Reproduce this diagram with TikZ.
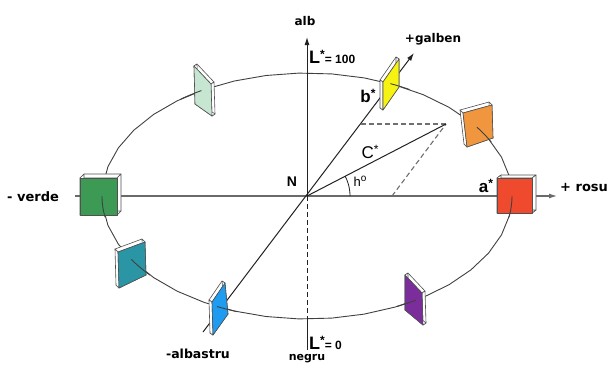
\documentclass[tikz,border=0pt]{standalone}
\usepackage{fontspec}
\setmainfont{DejaVu Sans}
\newfontfamily\arialfont{Liberation Sans}
\usetikzlibrary{arrows.meta,calc}

\definecolor{axisdark}{HTML}{222222}
\definecolor{axisgray}{HTML}{6A6A6A}
\definecolor{ringgray}{HTML}{404040}
\definecolor{edgegray}{HTML}{505050}
\definecolor{guidegray}{HTML}{707070}
\definecolor{cgreen}{HTML}{3C9A55}
\definecolor{cred}{HTML}{F04A2E}
\definecolor{corange}{HTML}{F0963F}
\definecolor{cyellow}{HTML}{F6F312}
\definecolor{clight}{HTML}{C6E6D2}
\definecolor{cteal}{HTML}{2A95A5}
\definecolor{cblue}{HTML}{1F9BF0}
\definecolor{cpurple}{HTML}{7B2D9C}

\tikzset{
  axisline/.style={draw=axisdark, line width=1pt},
  hline/.style={draw=axisgray, line width=1.1pt},
  ring/.style={draw=ringgray, line width=0.9pt},
  guide/.style={draw=guidegray, line width=1.1pt, dash pattern=on 5pt off 3pt},
  swside/.style={fill=white, draw=edgegray, line width=0.6pt, line join=round},
  swface/.style={draw=edgegray, line width=0.6pt, line join=round},
  lbl/.style={inner sep=0pt, text=black, font=\bfseries\fontsize{12}{12}\selectfont},
  big/.style={inner sep=0pt, text=black, font=\arialfont\fontsize{16}{16}\selectfont},
  tip/.style={-{Latex[length=8pt,width=5pt]}},
}

% colour swatch: face colour, four corners, depth offset
\newcommand\swatch[6]{%
  \coordinate (p1) at #2; \coordinate (p2) at #3;
  \coordinate (p3) at #4; \coordinate (p4) at #5;
  \foreach \i/\j in {1/2,2/3,3/4,4/1}{%
    \filldraw[swside] (p\i) -- (p\j) -- ($(p\j)+#6$) -- ($(p\i)+#6$) -- cycle;}
  \filldraw[swface, fill=#1] (p1) -- (p2) -- (p3) -- (p4) -- cycle;}

% piece of the hue ellipse between two parameter angles
\newcommand\ringpart[2]{%
  \draw[ring] plot[domain=#1:#2, samples=40] ({307+205*cos(\x)},{196-123*sin(\x)});}

% raised star for the axis symbols
\newcommand\supstar{\raisebox{5pt}{\fontsize{12}{12}\selectfont *}}

\begin{document}
\begin{tikzpicture}[x=1pt, y=-1pt]
\useasboundingbox (0,0) rectangle (609,365);

% reference points
\coordinate (N) at (307,196);
\coordinate (Ltop) at (307,37);
\coordinate (Lring) at (307,319);
\coordinate (Lbot) at (307,350);
\coordinate (aneg) at (75,196);
\coordinate (apos) at (557,196);
\coordinate (bneg) at (203,332);
\coordinate (bpos) at (414,53);
\coordinate (A) at (392,196);
\coordinate (B) at (361,124);
\coordinate (C) at (446,124);

% hue circle
\ringpart{0}{360}

% axes
\draw[hline, tip] (aneg) -- (apos);
\draw[axisline, tip] (N) -- (Ltop);
\draw[axisline, dash pattern=on 5pt off 3pt] (N) -- (Lring);
\draw[axisline] (Lring) -- (Lbot);
\draw[axisline, tip] (bneg) -- (bpos);

% chroma construction
\draw[guide] (B) -- (C);
\draw[guide] (A) -- (C);
\draw[axisline] (N) -- (C);
\draw[axisline, line width=0.8pt] plot[domain=0:27.5, samples=15] ({307+43*cos(\x)},{196-43*sin(\x)});

% colour swatches
\swatch{cgreen}{(80,178)}{(117,178)}{(117,215)}{(80,215)}{(4,-4)}
\swatch{cred}{(497,178)}{(532,178)}{(532,213)}{(497,213)}{(4,-3)}
\swatch{corange}{(463,113)}{(492,105)}{(493,138)}{(467,147)}{(-3,-3)}
\swatch{cyellow}{(383,82)}{(399,59)}{(399,87)}{(383,110)}{(-3,-2)}
\swatch{clight}{(194,66)}{(211,84)}{(212,116)}{(195,104)}{(3,-2)}
\swatch{cteal}{(118,252)}{(145,242)}{(146,275)}{(119,288)}{(-3,-3)}
\swatch{cblue}{(212,302)}{(225,283)}{(228,314)}{(213,335)}{(-3,-2)}
\swatch{cpurple}{(405,275)}{(422,293)}{(423,325)}{(405,310)}{(3,-2)}

% ellipse ends running into the swatches
\ringpart{180}{190}
\ringpart{350}{360}
\ringpart{26}{34}
\ringpart{60}{66}
\ringpart{121}{128}
\ringpart{211}{220}
\ringpart{244}{250}
\ringpart{296}{302}

% labels
\node[lbl] (alb) at (305,21) {alb};
\node[lbl, anchor=base west, font=\arialfont\bfseries] (lhi) at (309,63)
  {{\fontsize{18}{18}\selectfont L}\supstar{\fontsize{12}{12}\selectfont= 100}};
\node[lbl] (galben) at (433,39) {+galben};
\node[lbl, font=\arialfont\bfseries\fontsize{14}{14}\selectfont] (nlbl) at (292,182) {N};
\node[big, font=\arialfont\bfseries\fontsize{17}{17}\selectfont] (blbl) at (368,96) {b\supstar};
\node[big, font=\arialfont\fontsize{17}{17}\selectfont] (clbl) at (370,152) {C\supstar};
\node[big, font=\arialfont\fontsize{13}{13}\selectfont] (hlbl) at (360,181) {h\raisebox{5pt}{\fontsize{10}{10}\selectfont o}};
\node[big, font=\arialfont\bfseries\fontsize{17}{17}\selectfont] (albl) at (486,186) {a\supstar};
\node[lbl, anchor=west, font=\bfseries\fontsize{13}{13}\selectfont] (rosu) at (560,188) {+ rosu};
\node[lbl, anchor=west, font=\bfseries\fontsize{13}{13}\selectfont] (verde) at (7,197) {- verde};
\node[lbl, font=\bfseries\fontsize{12.5}{12.5}\selectfont] (albastru) at (198,354) {-albastru};
\node[lbl, anchor=base west, font=\arialfont\bfseries] (llo) at (309,349)
  {{\fontsize{18}{18}\selectfont L}\supstar{\fontsize{12}{12}\selectfont= 0}};
\node[lbl, font=\bfseries\fontsize{11}{11}\selectfont] (negru) at (307,359) {negru};
\end{tikzpicture}
\end{document}
